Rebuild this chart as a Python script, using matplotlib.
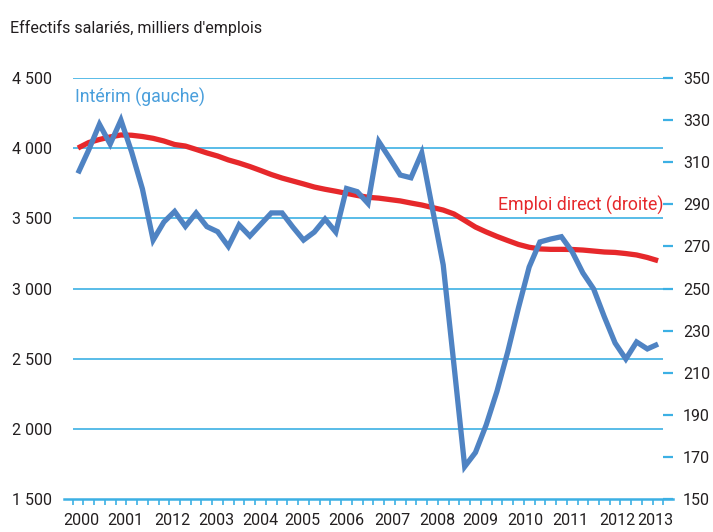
import matplotlib.pyplot as plt
import numpy as np
from matplotlib.ticker import FixedLocator, FuncFormatter

plt.rcParams['font.family'] = ['Roboto', 'DejaVu Sans']

# quarterly series, 2000T1 .. 2013T3
interim = [304.7, 315.8, 328.0, 318.6, 330.0, 314.8, 297.3, 273.0, 281.6, 286.6,
           279.5, 285.9, 279.4, 277.0, 270.0, 280.2, 274.9, 280.4, 285.9, 285.9,
           279.2, 273.0, 276.8, 283.0, 276.8, 297.5, 296.0, 290.4, 319.8, 312.0,
           303.9, 302.6, 314.4, 287.8, 261.2, 213.7, 165.4, 172.1, 185.2, 201.1,
           219.8, 240.7, 260.2, 272.1, 273.5, 274.6, 267.5, 257.4, 249.8, 236.5,
           224.1, 216.5, 224.6, 221.3, 223.6]

emploi_direct = [4001, 4040, 4062, 4080, 4094, 4092, 4083, 4070, 4051, 4026,
                 4015, 3991, 3966, 3944, 3916, 3894, 3869, 3841, 3812, 3787,
                 3766, 3745, 3723, 3707, 3693, 3678, 3663, 3650, 3644, 3634,
                 3624, 3609, 3595, 3577, 3559, 3531, 3485, 3438, 3403, 3371,
                 3342, 3314, 3294, 3282, 3279, 3279, 3278, 3274, 3267, 3260,
                 3257, 3249, 3239, 3221, 3198]

year_labels = ['2000', '2001', '2012', '2003', '2004', '2005', '2006',
               '2007', '2008', '2009', '2010', '2011', '2012', '2013']
year_label_pos = [0.3, 4.4, 8.75, 12.85, 17.0, 20.85, 24.95,
                  29.25, 33.45, 37.45, 41.6, 45.8, 50.2, 53.7]

BLUE = '#4f83c3'
RED = '#e6282b'
GRID = '#3cb0e4'
TXT = '#231f20'
FS = 11.5

x = np.arange(len(interim))

fig = plt.figure(figsize=(7.13, 5.32), dpi=100)
ax = fig.add_axes([0.1018, 0.062, 0.8287, 0.7914])
ax2 = ax.twinx()

ax.plot(x, emploi_direct, color=RED, lw=3.8, solid_capstyle='butt', zorder=3)
ax2.plot(x, interim, color=BLUE, lw=3.8, solid_capstyle='butt', solid_joinstyle='miter', zorder=3)

ax.set_xlim(-0.5, len(interim) - 0.5)
ax.set_ylim(1500, 4500)
ax2.set_ylim(150, 350)

ax.set_yticks(np.arange(1500, 4501, 500))
ax.yaxis.set_major_formatter(FuncFormatter(lambda v, p: f'{int(v):,}'.replace(',', ' ')))
ax.tick_params(axis='y', length=0, pad=15, labelsize=FS, labelcolor=TXT)

ax2.set_yticks(np.arange(150, 351, 20))
ax2.tick_params(axis='y', length=7, width=1.6, color=GRID, pad=7,
                labelsize=FS, labelcolor=TXT)

for a in (ax, ax2):
    for s in a.spines.values():
        s.set_visible(False)

for v in range(2000, 4501, 500):
    ax.axhline(v, color=GRID, lw=1.2, zorder=1)
ax.axhline(1500, xmin=-0.015, xmax=1.016, color=GRID, lw=1.8, clip_on=False, zorder=2)

ax.xaxis.set_major_locator(FixedLocator(year_label_pos))
ax.set_xticklabels(year_labels)
ax.xaxis.set_minor_locator(FixedLocator(np.arange(-0.5, len(interim), 1.0)))
ax.tick_params(axis='x', which='major', length=0, pad=10, labelsize=FS, labelcolor=TXT)
ax.tick_params(axis='x', which='minor', length=4, width=1.2, color=GRID, direction='out')

ax.text(0.004, 0.953, 'Intérim (gauche)', transform=ax.transAxes, color='#4a9fdc',
        fontsize=12.8, ha='left', va='center')
ax.text(1.0, 0.698, 'Emploi direct (droite)', transform=ax.transAxes, color=RED,
        fontsize=12.8, ha='right', va='center')

fig.text(10 / 713, 1 - 28 / 532, "Effectifs salariés, milliers d'emplois",
         fontsize=FS, color=TXT, ha='left', va='center')

fig.savefig('out.png', dpi=100)
